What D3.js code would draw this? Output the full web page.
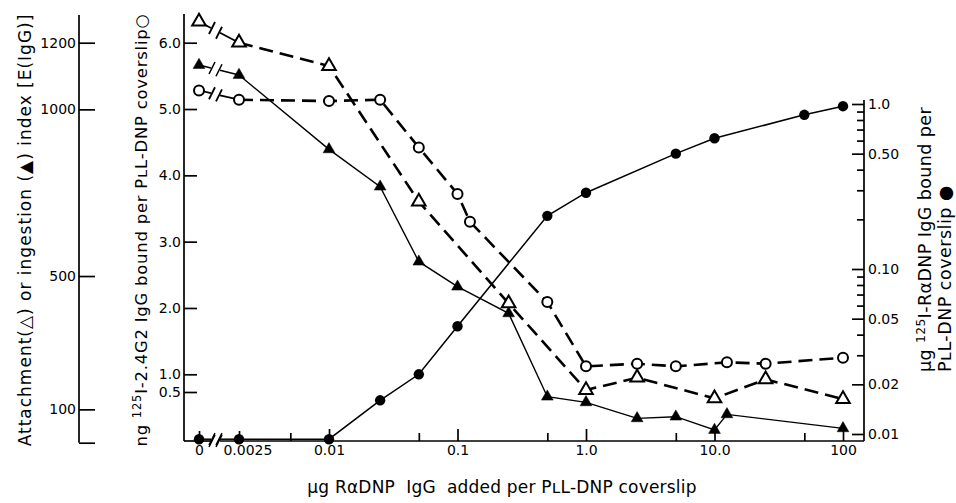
<!DOCTYPE html>
<html>
<head>
<meta charset="utf-8">
<script src="https://cdn.jsdelivr.net/npm/d3@7"></script>
<style>
  body { margin: 0; background: #fff; }
  svg { display: block; font-family: 'DejaVu Sans', sans-serif; }
</style>
</head>
<body>
<div id="chart"></div>
<script>
// values (x = µg RaDNP IgG added per coverslip)
const attachDose = [0, 0.0025, 0.01, 0.05, 0.25, 1, 2.5, 10, 25, 100]
const attachIndex = [1263, 1200, 1130, 723, 418, 158, 195, 133, 190, 131]

const ingestDose = [0, 0.0025, 0.01, 0.025, 0.05, 0.1, 0.25, 0.5, 1, 2.5, 5, 10, 12.5, 100]
const ingestIndex = [1133, 1103, 880, 768, 543, 468, 388, 138, 121, 73, 78, 38, 85, 43]

const ngDose = [0, 0.0025, 0.01, 0.025, 0.05, 0.1, 0.125, 0.5, 1, 2.5, 5, 12.5, 25, 100]
const ngBound = [5.28, 5.14, 5.12, 5.14, 4.42, 3.72, 3.30, 2.09, 1.12, 1.16, 1.12, 1.18, 1.16, 1.25]

const ugDose = [0, 0.0025, 0.01, 0.025, 0.05, 0.1, 0.5, 1, 5, 10, 50, 100]
const ugBound = [0.0093, 0.0093, 0.0093, 0.016, 0.023, 0.045, 0.21, 0.29, 0.50, 0.62, 0.86, 0.97]

// tick labels
const idxTicks = [0, 100, 500, 1000, 1200]
const ngTicks = [0.5, 1, 2, 3, 4, 5, 6]
const ugTickValues = [0.01, 0.02, 0.05, 0.1, 0.5, 1]
const ugTickLabels = ['0.01', '0.02', '0.05', '0.10', '0.50', '1.0']
const xMajor = [0.01, 0.1, 1, 10, 100]
const xMajorLabels = ['0.01', '0.1', '1.0', '10.0', '100']
const xMinor = [0.005, 0.05, 0.5, 5, 50]
const xBreakTicks = [0, 0.0025]
const xBreakLabels = ['0', '0.0025']

const drawChart = () => {
  const w = 956
  const h = 503
  const base = 441

  const svg = d3.select('#chart')
    .append('svg')
    .attr('width', w)
    .attr('height', h)

  svg.append('rect').attr('width', w).attr('height', h).attr('fill', '#fff')

  const xLog = d3.scaleLog().domain([0.01, 100]).range([329, 843])
  const xBreak = d3.scalePoint().domain(xBreakTicks).range([199, 239])
  const x = (d) => d < 0.005 ? xBreak(d) : xLog(d)

  const yIdx = d3.scaleLinear().domain([0, 1200]).range([442.7, 42.7])
  const yNg = d3.scaleLinear().domain([0, 0.5, 1, 6]).range([442.7, 392, 374.3, 42.7])
  const yUg = d3.scaleLog().domain([0.01, 1]).range([434, 104])

  const styleAxis = (g) => {
    g.attr('font-size', 14).attr('font-family', null)
    g.selectAll('line').attr('stroke', '#000').attr('stroke-width', 1.7)
    g.selectAll('text').attr('fill', '#000')
    g.select('.domain').remove()
  }

  const vline = (xx, y1, y2) => svg.append('line')
    .attr('x1', xx).attr('x2', xx).attr('y1', y1).attr('y2', y2)
    .attr('stroke', '#000').attr('stroke-width', 1.7)

  // left axis: attachment / ingestion index
  svg.append('g')
    .attr('transform', 'translate(79,0)')
    .call(d3.axisLeft(yIdx).tickValues(idxTicks).tickSize(-16).tickPadding(3)
      .tickFormat(d => d === 0 ? '' : d))
    .call(styleAxis)
  vline(79, 15, 442.7)

  // middle axis: ng 125I-2.4G2
  svg.append('g')
    .attr('transform', 'translate(184,0)')
    .call(d3.axisLeft(yNg).tickValues(ngTicks).tickSize(-13).tickPadding(3)
      .tickFormat(d3.format('.1f')))
    .call(styleAxis)
  vline(184, 14, base)

  // right axis: µg 125I-RaDNP (log)
  const ugAll = yUg.ticks()
  const isLabelled = (d) => ugTickValues.some(v => Math.abs(v - d) < 1e-9)
  svg.append('g')
    .attr('transform', 'translate(864,0)')
    .call(d3.axisRight(yUg).tickValues(ugAll).tickSize(-12).tickPadding(4)
      .tickFormat(d => {
        const i = ugTickValues.findIndex(v => Math.abs(v - d) < 1e-9)
        return i < 0 ? '' : ugTickLabels[i]
      }))
    .call(styleAxis)
    .call(g => g.selectAll('.tick line').attr('x2', d => isLabelled(d) ? -12 : -7))
  vline(864, 100, base)

  // x axis, log part
  svg.append('g')
    .attr('transform', `translate(0,${base})`)
    .call(d3.axisBottom(xLog).tickValues(xMajor.concat(xMinor)).tickSize(-12).tickPadding(4)
      .tickFormat(d => {
        const i = xMajor.indexOf(d)
        return i < 0 ? '' : xMajorLabels[i]
      }))
    .call(styleAxis)
    .call(g => g.selectAll('.tick line').attr('y2', d => xMajor.includes(d) ? -12 : -8))

  // x axis, broken part
  svg.append('g')
    .attr('transform', `translate(0,${base})`)
    .call(d3.axisBottom(xBreak).tickValues(xBreakTicks).tickSize(-10).tickPadding(4)
      .tickFormat((d, i) => xBreakLabels[i]))
    .call(styleAxis)
    .call(g => g.selectAll('.tick text').attr('dx', (d, i) => i === 1 ? '0.6em' : 0))

  const gapA = 211
  const gapB = 220

  const slash = (g, xx, yy, sw) => g.append('line')
    .attr('x1', xx - 3).attr('y1', yy + 6).attr('x2', xx + 3).attr('y2', yy - 6)
    .attr('stroke', '#000').attr('stroke-width', sw)

  // bottom axis line with break
  svg.append('line').attr('x1', 184).attr('x2', gapA).attr('y1', base).attr('y2', base)
    .attr('stroke', '#000').attr('stroke-width', 1.7)
  svg.append('line').attr('x1', gapB).attr('x2', 864).attr('y1', base).attr('y2', base)
    .attr('stroke', '#000').attr('stroke-width', 1.7)
  slash(svg, gapA + 1, base, 1.6)
  slash(svg, gapB - 1, base, 1.6)

  const series = [
    { dose: ugDose, val: ugBound, y: yUg, dash: null, sw: 1.5, marker: 'dot' },
    { dose: ingestDose, val: ingestIndex, y: yIdx, dash: null, sw: 1.4, marker: 'fillTri' },
    { dose: attachDose, val: attachIndex, y: yIdx, dash: '14,7', sw: 2.6, marker: 'openTri' },
    { dose: ngDose, val: ngBound, y: yNg, dash: '14,7', sw: 2.6, marker: 'ring' }
  ]

  const lineGen = (s) => d3.line().x(d => x(d[0])).y(d => s.y(d[1]))

  series.forEach(s => {
    const pts = s.dose.map((d, i) => [d, s.val[i]])
    const g = svg.append('g')

    // broken first segment
    const p0 = [x(pts[0][0]), s.y(pts[0][1])]
    const p1 = [x(pts[1][0]), s.y(pts[1][1])]
    const yAt = (xx) => p0[1] + (p1[1] - p0[1]) * (xx - p0[0]) / (p1[0] - p0[0])
    const bw = Math.max(s.sw * 0.7, 1.5)
    g.append('line').attr('x1', p0[0]).attr('y1', p0[1]).attr('x2', gapA).attr('y2', yAt(gapA))
      .attr('stroke', '#000').attr('stroke-width', bw)
    g.append('line').attr('x1', gapB).attr('y1', yAt(gapB)).attr('x2', p1[0]).attr('y2', p1[1])
      .attr('stroke', '#000').attr('stroke-width', bw)
    slash(g, gapA + 1, yAt(gapA), bw)
    slash(g, gapB - 1, yAt(gapB), bw)

    g.append('path')
      .datum(pts.slice(1))
      .attr('d', lineGen(s))
      .attr('fill', 'none')
      .attr('stroke', '#000')
      .attr('stroke-width', s.sw)
      .attr('stroke-dasharray', s.dash)
  })

  series.forEach(s => {
    const pts = s.dose.map((d, i) => [d, s.val[i]])
    const g = svg.append('g')
    if (s.marker === 'dot' || s.marker === 'ring') {
      g.selectAll('circle')
        .data(pts)
        .enter()
        .append('circle')
        .attr('cx', d => x(d[0]))
        .attr('cy', d => s.y(d[1]))
        .attr('r', s.marker === 'dot' ? 5.2 : 5)
        .attr('fill', s.marker === 'dot' ? '#000' : '#fff')
        .attr('stroke', '#000')
        .attr('stroke-width', s.marker === 'dot' ? 0 : 2)
    } else {
      const open = s.marker === 'openTri'
      g.selectAll('path')
        .data(pts)
        .enter()
        .append('path')
        .attr('transform', d => `translate(${x(d[0])},${s.y(d[1])})`)
        .attr('d', d3.symbol(d3.symbolTriangle, open ? 80 : 60))
        .attr('fill', open ? '#fff' : '#000')
        .attr('stroke', '#000')
        .attr('stroke-width', open ? 2 : 0.5)
    }
  })

  // titles
  const sup = (t, pre, s, post) => {
    t.append('tspan').text(pre)
    t.append('tspan').attr('font-size', '0.7em').attr('dy', -6).text(s)
    t.append('tspan').attr('dy', 6).text(post)
  }

  svg.append('text')
    .attr('transform', 'translate(31,230) rotate(-90)')
    .attr('text-anchor', 'middle')
    .attr('font-size', 17)
    .attr('letter-spacing', 1)
    .text('Attachment(△) or ingestion (▲) index [E(IgG)]')

  const mid = svg.append('text')
    .attr('transform', 'translate(147,230) rotate(-90)')
    .attr('text-anchor', 'middle')
    .attr('font-size', 16.4)
    .attr('letter-spacing', 0.8)
  sup(mid, 'ng ', '125', 'I-2.4G2 IgG bound per PʟL-DNP coverslip○')

  const r1 = svg.append('text')
    .attr('transform', 'translate(931,372) rotate(-90)')
    .attr('font-size', 17.5)
    .attr('letter-spacing', 0.4)
  sup(r1, 'µg ', '125', 'I-RαDNP IgG bound per')

  svg.append('text')
    .attr('transform', 'translate(951,372) rotate(-90)')
    .attr('font-size', 17.5)
    .attr('letter-spacing', 0.5)
    .text('PʟL-DNP coverslip ●')

  svg.append('text')
    .attr('x', 502)
    .attr('y', 493)
    .attr('text-anchor', 'middle')
    .attr('font-size', 17)
    .attr('letter-spacing', 0.2)
    .style('white-space', 'pre')
    .text('µg RαDNP  IgG  added per PʟL-DNP coverslip')
}

drawChart()
</script>
</body>
</html>
